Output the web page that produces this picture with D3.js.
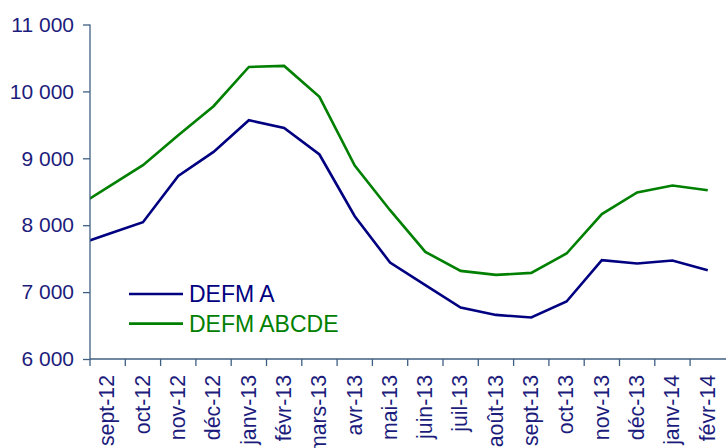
<!DOCTYPE html>
<html>
<head>
<meta charset="utf-8">
<script src="https://cdn.jsdelivr.net/npm/d3@7"></script>
<style>
  body { margin: 0; background: #fff; }
  text { font-family: "Liberation Sans", Arial, sans-serif; }
</style>
</head>
<body>
<svg id="chart" width="726" height="448"></svg>
<script>
// months shown on the axis
var months = ['sept-12', 'oct-12', 'nov-12', 'déc-12', 'janv-13', 'févr-13', 'mars-13', 'avr-13',
    'mai-13', 'juin-13', 'juil-13', 'août-13', 'sept-13', 'oct-13', 'nov-13', 'déc-13', 'janv-14', 'févr-14'];
// one month before the axis starts (line is cut at the y axis)
var leadMonth = 'août-12';
var leadA = 7680, leadABCDE = 8235;
var defmA = [7865, 8045, 8737, 9096, 9570, 9454, 9057, 8135, 7442, 7103, 6770, 6659, 6620, 6859, 7477, 7427, 7472, 7327];
var defmABCDE = [8565, 8897, 9345, 9779, 10366, 10381, 9918, 8890, 8224, 7601, 7317, 7257, 7287, 7577, 8167, 8489, 8593, 8523];
var yTicks = [6000, 7000, 8000, 9000, 10000, 11000];
var seriesNames = ['DEFM A', 'DEFM ABCDE'];
var colors = ['#000080', '#008000'];

var svg = d3.select('#chart'),
    margin = { left: 90, top: 24.5, right: 0.6, bottom: 89 },
    width = +svg.attr('width'),
    height = +svg.attr('height'),
    plotW = width - margin.left - margin.right,
    plotH = height - margin.top - margin.bottom,
    axisColor = '#3f5f82',
    textColor = '#1c1c7c';

// index based x scale so the lead month can sit left of the axis
var x = d3.scaleLinear().domain([0, months.length]).range([margin.left, margin.left + plotW]);
var y = d3.scaleLinear().domain([6000, 11000]).range([margin.top + plotH, margin.top]);

svg.append('defs').append('clipPath').attr('id', 'plot-clip')
    .append('rect')
    .attr('x', margin.left).attr('y', 0)
    .attr('width', plotW).attr('height', height);

// Lines
var series = [
    [leadA].concat(defmA),
    [leadABCDE].concat(defmABCDE)
];
var line = d3.line()
    .x(function (d, i) { return x(i - 0.5); })
    .y(function (d) { return y(d); });

svg.append('g').attr('clip-path', 'url(#plot-clip)')
    .selectAll('path')
    .data(series)
    .enter().append('path')
    .attr('d', line)
    .attr('fill', 'none')
    .attr('stroke', function (d, i) { return colors[i]; })
    .attr('stroke-width', 2.6)
    .attr('stroke-linejoin', 'miter');

// Y axis
var yAxis = svg.append('g')
    .attr('transform', 'translate(' + margin.left + ',0)')
    .call(d3.axisLeft(y).tickValues(yTicks).tickSize(7).tickPadding(9)
        .tickFormat(function (d) { return d3.format(',')(d).replace(',', ' '); }));
yAxis.selectAll('path, line').attr('stroke', axisColor).attr('stroke-width', 1.3);
yAxis.select('.domain').attr('d', 'M0,' + y(6000) + 'V' + y(11000));
yAxis.selectAll('text')
    .attr('fill', textColor)
    .style('font-size', '21px');

// X axis, ticks on band edges
var xAxis = svg.append('g')
    .attr('transform', 'translate(0,' + y(6000) + ')');
xAxis.append('line')
    .attr('x1', margin.left).attr('x2', width)
    .attr('stroke', axisColor).attr('stroke-width', 1.3);
xAxis.selectAll('.tick')
    .data(d3.range(months.length))
    .enter().append('line')
    .attr('x1', function (d) { return x(d); })
    .attr('x2', function (d) { return x(d); })
    .attr('y2', 7)
    .attr('stroke', axisColor).attr('stroke-width', 1.3);
xAxis.selectAll('.lbl')
    .data(months)
    .enter().append('text')
    .attr('class', 'lbl')
    .attr('transform', function (d, i) { return 'translate(' + x(i + 0.5) + ',16) rotate(-90)'; })
    .attr('dy', '0.32em')
    .attr('text-anchor', 'end')
    .attr('fill', textColor)
    .style('font-size', '21.3px')
    .text(function (d) { return d; });

// Legend
var legend = svg.append('g').attr('transform', 'translate(129,294)');
var item = legend.selectAll('g')
    .data(seriesNames)
    .enter().append('g')
    .attr('transform', function (d, i) { return 'translate(0,' + (i * 29.6) + ')'; });
item.append('line')
    .attr('x2', 54)
    .attr('stroke', function (d, i) { return colors[i]; })
    .attr('stroke-width', 2.6);
item.append('text')
    .attr('x', 60)
    .attr('y', 8)
    .attr('fill', function (d, i) { return colors[i]; })
    .style('font-size', '23px')
    .text(function (d) { return d; });
</script>
</body>
</html>
